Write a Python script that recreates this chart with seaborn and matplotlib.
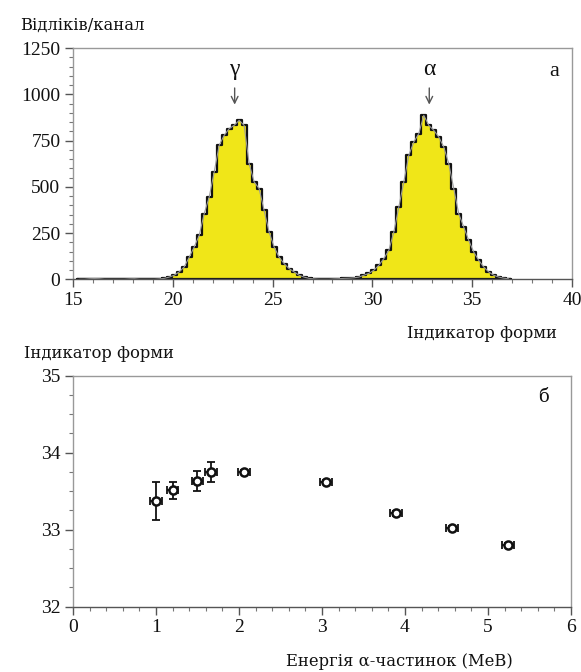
import numpy as np
import pandas as pd
import matplotlib
matplotlib.use("Agg")
import matplotlib.pyplot as plt
import seaborn as sns
from matplotlib.ticker import MultipleLocator

# ---------------- data ----------------
# panel a: histogram of shape indicator (bin width 0.25 starting at 15.2)
bin_start = 15.2
bin_width = 0.25
counts_background = [0, 0, 3, 4, 3, 0, 0, 0, 0, 0, 2, 3, 0, 0, 0, 0, 2]
counts_gamma = [5, 12, 22, 40, 67, 120, 175, 238, 355, 445, 580, 725, 779, 815,
                833, 860, 833, 626, 527, 491, 373, 256, 175, 120, 85, 58, 40, 22, 12, 5]
counts_gap = [2, 0, 0, 0, 2]
counts_alpha = [3, 5, 6, 8, 12, 22, 32, 49, 76, 112, 157, 256, 391, 527, 671, 743,
                788, 887, 833, 806, 770, 716, 626, 491, 355, 283, 211, 148, 103, 67,
                40, 22, 12, 6, 3]
peak_labels = ["γ", "α"]
peak_positions = [23.1, 32.85]

# panel б: shape indicator vs alpha energy
energy = [1.0, 1.2, 1.5, 1.66, 2.06, 3.05, 3.89, 4.57, 5.24]
indicator = [33.37, 33.51, 33.63, 33.75, 33.75, 33.62, 33.21, 33.02, 32.80]
indicator_err = [0.25, 0.11, 0.13, 0.125, 0.03, 0.03, 0.03, 0.03, 0.03]
energy_err = [0.07, 0.07, 0.07, 0.07, 0.07, 0.07, 0.07, 0.07, 0.07]

# ---------------- figure ----------------
sns.set_theme(style="white")
plt.rcParams["font.family"] = ["Liberation Serif", "DejaVu Serif"]

fig = plt.figure(figsize=(5.81, 6.72), dpi=100)
ax1 = fig.add_axes([0.1256, 0.5844, 0.8589, 0.3438])
ax2 = fig.add_axes([0.1256, 0.0972, 0.8571, 0.3438])

counts = counts_background + counts_gamma + counts_gap + counts_alpha
n = len(counts)
centers = bin_start + bin_width * (np.arange(n) + 0.5)
hist_df = pd.DataFrame({"x": centers, "w": counts})

sns.histplot(data=hist_df, x="x", weights="w", binwidth=bin_width,
             binrange=(bin_start, bin_start + n * bin_width), element="step",
             fill=True, color="#F0E618", alpha=1.0, edgecolor="#111111",
             linewidth=1.6, ax=ax1)
sns.lineplot(data=hist_df, x="x", y="w", color="#9a9a9a", linewidth=0.8, ax=ax1)

ax1.set_xlim(15, 40)
ax1.set_ylim(0, 1250)
ax1.xaxis.set_major_locator(MultipleLocator(5))
ax1.xaxis.set_minor_locator(MultipleLocator(1))
ax1.yaxis.set_major_locator(MultipleLocator(250))
ax1.yaxis.set_minor_locator(MultipleLocator(50))
ax1.set_xlabel("")
ax1.set_ylabel("")

for lab, pos in zip(peak_labels, peak_positions):
    ax1.annotate("", xy=(pos, 930), xytext=(pos, 1050),
                 arrowprops=dict(arrowstyle="->", color="#555555", lw=1.0))
    ax1.text(pos, 1080, lab, ha="center", va="bottom", fontsize=17, color="#111111")
ax1.text(39.1, 1123, "а", ha="center", va="center", fontsize=16, color="#111111")

# panel б
ax2.errorbar(energy, indicator, yerr=indicator_err, xerr=energy_err, fmt="none",
             ecolor="#111111", elinewidth=1.3, capsize=3, capthick=1.3, zorder=2)
sns.scatterplot(x=energy, y=indicator, ax=ax2, marker="o", s=34,
                facecolor="white", edgecolor="#111111", linewidth=1.8, zorder=3)
ax2.set_xlim(0, 6)
ax2.set_ylim(32, 35)
ax2.xaxis.set_major_locator(MultipleLocator(1))
ax2.xaxis.set_minor_locator(MultipleLocator(0.2))
ax2.yaxis.set_major_locator(MultipleLocator(1))
ax2.yaxis.set_minor_locator(MultipleLocator(0.25))
ax2.text(5.67, 34.72, "б", ha="center", va="center", fontsize=13, color="#111111",
         family=["DejaVu Serif"])

for ax in (ax1, ax2):
    ax.tick_params(axis="both", which="major", direction="out", length=6, width=1,
                   color="#555555", labelsize=14, labelcolor="#111111", pad=3,
                   bottom=True, left=True)
    ax.tick_params(axis="both", which="minor", direction="out", length=3, width=0.8,
                   color="#777777", bottom=True, left=True)
    for side in ["top", "right", "left"]:
        ax.spines[side].set_color("#999999")
        ax.spines[side].set_linewidth(1.0)
    ax.spines["bottom"].set_color("#555555")
    ax.spines["bottom"].set_linewidth(1.0)

# axis labels as free texts
fig.text(0.0344, 0.9628, "Відліків/канал", ha="left", va="center", fontsize=11.8,
         family=["DejaVu Serif"], color="#111111")
fig.text(0.9587, 0.503, "Індикатор форми", ha="right", va="center", fontsize=11.8,
         family=["DejaVu Serif"], color="#111111")
fig.text(0.0413, 0.4747, "Індикатор форми", ha="left", va="center", fontsize=11.8,
         family=["DejaVu Serif"], color="#111111")
fig.text(0.6875, 0.015, "Енергія α-частинок (МеВ)", ha="center", va="center",
         fontsize=11.8, family=["DejaVu Serif"], color="#111111")

fig.savefig("out.png", dpi=100)
